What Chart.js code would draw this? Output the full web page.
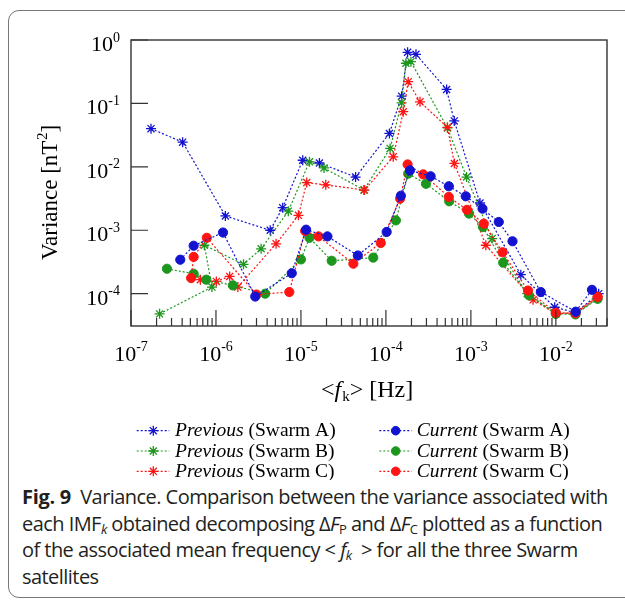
<!DOCTYPE html>
<html>
<head>
<meta charset="utf-8">
<script src="https://cdn.jsdelivr.net/npm/chart.js@4"></script>
<style>
  html, body { margin: 0; padding: 0; background: #fff; }
  #wrap { position: relative; width: 625px; height: 601px; overflow: hidden; }
  #frame { position: absolute; left: 8px; top: 10px; width: 700px; height: 586px;
           border: 1.3px solid #777; border-radius: 11px; }
  #box { position: absolute; left: 0; top: 0; width: 625px; height: 480px; }
  #caption { position: absolute; left: 22px; top: 484px; font-family: "Open Sans", "Noto Sans", sans-serif;
             font-size: 20px; line-height: 26.5px; color: #231f20; letter-spacing: -0.55px; white-space: nowrap; }
  #caption b { font-weight: 700; letter-spacing: -0.3px; }
  #caption sub { font-size: 13px; line-height: 0; vertical-align: -3px; }
</style>
</head>
<body>
<div id="wrap">
  <div id="frame"></div>
  <div id="box"><canvas id="varChart"></canvas></div>
  <div id="caption">
    <div><b>Fig. 9</b>&nbsp; Variance. Comparison between the variance associated with</div>
    <div>each IMF<sub><i>k</i></sub> obtained decomposing Δ<i>F</i><sub>P</sub> and Δ<i>F</i><sub>C</sub> plotted as a function</div>
    <div>of the associated mean frequency &lt; <i>f<sub>k</sub></i> &nbsp;&gt; for all the three Swarm</div>
    <div>satellites</div>
  </div>
</div>
<script>
// mean frequency <f_k> [Hz] and variance [nT^2] of each IMF
let prevA_f = [1.72e-7, 4.05e-7, 1.29e-6, 4.35e-6, 6.1e-6, 1.05e-5, 1.65e-5, 4.4e-5, 1.1e-4, 1.53e-4, 1.8e-4, 2.26e-4, 5.18e-4, 6.37e-4, 1.28e-3, 3.87e-3, 9.7e-3, 1.7e-2, 3.19e-2];
let prevA_v = [0.040, 0.0245, 1.68e-3, 1.0e-3, 2.27e-3, 0.0127, 0.0115, 6.9e-3, 0.0336, 0.130, 0.64, 0.594, 0.166, 0.053, 2.69e-3, 1.99e-4, 6.1e-5, 5.0e-5, 1.0e-4];

let prevB_f = [2.17e-7, 8.97e-7, 7.3e-7, 2.11e-6, 3.4e-6, 7.1e-6, 1.26e-5, 1.87e-5, 5.5e-5, 1.12e-4, 1.53e-4, 1.72e-4, 1.97e-4, 5.3e-4, 8.9e-4, 1.78e-3, 4.6e-3, 1.0e-2, 1.7e-2, 3.1e-2];
let prevB_v = [4.8e-5, 1.27e-4, 5.8e-4, 2.9e-4, 5.1e-4, 2.0e-3, 0.012, 9.6e-3, 4.3e-3, 0.0195, 0.102, 0.43, 0.455, 0.041, 6.9e-3, 7.4e-4, 1.0e-4, 4.9e-5, 4.9e-5, 8.3e-5];

let prevC_f = [6.55e-7, 1.01e-6, 1.45e-6, 1.81e-6, 5.1e-6, 9.35e-6, 1.17e-5, 1.96e-5, 5.6e-5, 1.22e-4, 1.6e-4, 1.83e-4, 2.52e-4, 5.3e-4, 6.4e-4, 1.5e-3, 5.4e-3, 1.0e-2, 1.7e-2, 3.1e-2];
let prevC_v = [1.66e-4, 1.56e-4, 1.87e-4, 1.27e-4, 6.1e-4, 1.72e-3, 5.65e-3, 5.2e-3, 4.3e-3, 0.0144, 0.074, 0.22, 0.106, 0.042, 0.0113, 5.8e-4, 8.0e-5, 4.8e-5, 5.0e-5, 9.0e-5];

let curA_f = [3.8e-7, 5.46e-7, 1.21e-6, 2.9e-6, 7.8e-6, 1.15e-5, 2.05e-5, 4.67e-5, 1.02e-4, 1.5e-4, 1.92e-4, 3.36e-4, 5.5e-4, 8.7e-4, 1.37e-3, 2.13e-3, 3.09e-3, 6.65e-3, 1.71e-2, 2.66e-2];
let curA_v = [3.43e-4, 5.7e-4, 9.2e-4, 9.0e-5, 2.1e-4, 1.02e-3, 8.0e-4, 4.0e-4, 9.4e-4, 3.5e-3, 8.8e-3, 7.1e-3, 4.94e-3, 3.43e-3, 2.19e-3, 1.35e-3, 6.7e-4, 1.06e-4, 5.2e-5, 1.15e-4];

let curB_f = [2.65e-7, 5.46e-7, 7.7e-7, 1.58e-6, 3.8e-6, 1.0e-5, 1.26e-5, 2.3e-5, 7.1e-5, 1.31e-4, 1.83e-4, 2.96e-4, 5.56e-4, 9.5e-4, 1.39e-3, 2.4e-3, 4.84e-3, 1.0e-2, 1.7e-2, 3.1e-2];
let curB_v = [2.47e-4, 2.06e-4, 1.66e-4, 1.35e-4, 1.0e-4, 3.47e-4, 7.6e-4, 3.3e-4, 3.7e-4, 1.43e-3, 7.8e-3, 5.4e-3, 2.86e-3, 1.83e-3, 1.12e-3, 3.08e-4, 9.4e-5, 4.8e-5, 4.7e-5, 8.3e-5];

let curC_f = [5.1e-7, 5.46e-7, 7.8e-7, 3.0e-6, 7.3e-6, 1.12e-5, 1.61e-5, 4.14e-5, 8.7e-5, 1.47e-4, 1.8e-4, 2.75e-4, 5.5e-4, 9.0e-4, 1.42e-3, 2.36e-3, 4.7e-3, 1.0e-2, 1.7e-2, 3.1e-2];
let curC_v = [1.76e-4, 3.8e-4, 7.6e-4, 9.7e-5, 1.06e-4, 9.7e-4, 8.0e-4, 2.97e-4, 6.3e-4, 3.15e-3, 0.0109, 7.6e-3, 3.35e-3, 2.1e-3, 1.27e-3, 4.5e-4, 1.12e-4, 5.0e-5, 4.9e-5, 8.9e-5];

// axis decades for tick labels
let xDecades = [-7, -6, -5, -4, -3, -2];
let yDecades = [0, -1, -2, -3, -4];

const serif = '"Liberation Serif", "Times New Roman", serif';
const blue = "#1212d0", green = "#1c961c", red = "#ff1414";

function series(label, xs, ys, color, style, order) {
    return {
        label: label,
        data: xs.map((x, i) => ({ x: x, y: ys[i] })),
        showLine: true,
        borderColor: color,
        borderWidth: 1.2,
        borderDash: [2, 2],
        pointStyle: style,
        pointRadius: style == "star" ? 5 : 4.6,
        pointBorderWidth: style == "star" ? 1.3 : 1,
        pointBackgroundColor: color,
        pointBorderColor: color,
        order: order
    };
}

// frame, inward ticks, 10^n labels, axis titles and the legend
const decor = {
    id: "decor",
    afterDraw(chart) {
        const ctx = chart.ctx, a = chart.chartArea;
        const xs = chart.scales.x, ys = chart.scales.y;
        ctx.save();
        ctx.strokeStyle = "#333";
        ctx.lineWidth = 1.4;
        ctx.strokeRect(a.left, a.top, a.right - a.left, a.bottom - a.top);

        ctx.lineWidth = 1.2;
        ctx.beginPath();
        yDecades.forEach(e => {
            let py = ys.getPixelForValue(Math.pow(10, e));
            ctx.moveTo(a.left, py); ctx.lineTo(a.left + 17, py);
        });
        for (let e = -7; e <= -2; e++) {
            for (let m = 1; m <= 9; m++) {
                let v = m * Math.pow(10, e);
                if (v > xs.max) break;
                let px = xs.getPixelForValue(v);
                ctx.moveTo(px, a.bottom); ctx.lineTo(px, a.bottom - (m == 1 ? 16 : 8));
            }
        }
        ctx.stroke();

        ctx.fillStyle = "#000";
        ctx.textBaseline = "alphabetic";
        // x tick labels
        xDecades.forEach(e => {
            let px = xs.getPixelForValue(Math.pow(10, e));
            ctx.font = "22px " + serif;
            let wb = ctx.measureText("10").width;
            ctx.font = "14px " + serif;
            let we = ctx.measureText(String(e)).width;
            let x0 = px - (wb + we) / 2;
            ctx.textAlign = "left";
            ctx.font = "22px " + serif;
            ctx.fillText("10", x0, 361);
            ctx.font = "14px " + serif;
            ctx.fillText(String(e), x0 + wb, 351);
        });
        // y tick labels
        yDecades.forEach(e => {
            let py = ys.getPixelForValue(Math.pow(10, e));
            ctx.textAlign = "right";
            ctx.font = "14px " + serif;
            let we = ctx.measureText(String(e)).width;
            ctx.fillText(String(e), 120, py + 1.5);
            ctx.font = "22px " + serif;
            ctx.fillText("10", 120 - we, py + 11);
        });

        // x title  <f_k> [Hz]
        ctx.textAlign = "left";
        let tx = 321, tb = 396.5;
        ctx.font = "24px " + serif;
        ctx.fillText("<", tx, tb); tx += ctx.measureText("<").width;
        ctx.font = "italic 24px " + serif;
        ctx.fillText("f", tx, tb); tx += ctx.measureText("f").width + 1;
        ctx.font = "15px " + serif;
        ctx.fillText("k", tx, tb + 4); tx += ctx.measureText("k").width;
        ctx.font = "24px " + serif;
        ctx.fillText("> [Hz]", tx, tb);

        // y title  Variance [nT^2]
        ctx.save();
        ctx.translate(57, 260);
        ctx.rotate(-Math.PI / 2);
        ctx.font = "23px " + serif;
        ctx.fillText("Variance [nT", 0, 0);
        let w1 = ctx.measureText("Variance [nT").width;
        ctx.font = "15px " + serif;
        ctx.fillText("2", w1 + 0.5, -10);
        ctx.font = "23px " + serif;
        ctx.fillText("]", w1 + 8, 0);
        ctx.restore();

        // legend
        const rows = [430.7, 451, 471.3];
        const cols = [
            { x1: 136.7, x2: 169.3, mx: 153.3, tx: 175, word: "Previous", set: [0, 1, 2] },
            { x1: 379.3, x2: 411.7, mx: 395.7, tx: 416.7, word: "Current", set: [3, 4, 5] }
        ];
        const names = ["(Swarm A)", "(Swarm B)", "(Swarm C)"];
        cols.forEach(c => {
            c.set.forEach((di, r) => {
                let ds = chart.data.datasets[di], y = rows[r];
                ctx.save();
                ctx.strokeStyle = ds.borderColor;
                ctx.lineWidth = 1.2;
                ctx.setLineDash([2, 2]);
                ctx.beginPath(); ctx.moveTo(c.x1, y); ctx.lineTo(c.x2, y); ctx.stroke();
                ctx.setLineDash([]);
                ctx.fillStyle = ds.pointBackgroundColor;
                ctx.strokeStyle = ds.pointBorderColor;
                ctx.lineWidth = ds.pointBorderWidth;
                if (ds.pointStyle == "circle") {
                    ctx.beginPath();
                    ctx.arc(c.mx, y, 4.3, 0, Math.PI * 2); ctx.fill(); ctx.stroke();
                } else {
                    Chart.helpers.drawPoint(ctx, { pointStyle: "star", radius: ds.pointRadius, rotation: 0, borderWidth: ds.pointBorderWidth }, c.mx, y);
                }
                ctx.restore();
                ctx.fillStyle = "#000";
                ctx.textAlign = "left";
                ctx.font = "italic 19.5px " + serif;
                ctx.fillText(c.word, c.tx, y + 5.5);
                let w = ctx.measureText(c.word + " ").width;
                ctx.font = "19.5px " + serif;
                ctx.fillText(names[r], c.tx + w, y + 5.5);
            });
        });
        ctx.restore();
    }
};

let ctxVar = document.getElementById("varChart").getContext("2d");

const varChart = new Chart(ctxVar, {
    type: "scatter",
    data: {
        datasets: [
            series("Previous (Swarm A)", prevA_f, prevA_v, blue, "star", 5),
            series("Previous (Swarm B)", prevB_f, prevB_v, green, "star", 4),
            series("Previous (Swarm C)", prevC_f, prevC_v, red, "star", 3),
            series("Current (Swarm A)", curA_f, curA_v, blue, "circle", 0),
            series("Current (Swarm B)", curB_f, curB_v, green, "circle", 2),
            series("Current (Swarm C)", curC_f, curC_v, red, "circle", 1)
        ]
    },
    options: {
        animation: false,
        responsive: true,
        maintainAspectRatio: false,
        layout: { padding: { top: 40, right: 18, left: 0, bottom: 0 } },
        plugins: { legend: { display: false }, tooltip: { enabled: false } },
        scales: {
            x: {
                type: "logarithmic",
                min: 1e-7,
                max: 0.04,
                ticks: { display: false },
                grid: { display: false },
                border: { display: false },
                afterFit(s) { s.height = 154; }
            },
            y: {
                type: "logarithmic",
                min: Math.pow(10, -4.51),
                max: 1,
                ticks: { display: false },
                grid: { display: false },
                border: { display: false },
                afterFit(s) { s.width = 131; }
            }
        }
    },
    plugins: [decor]
});
</script>
</body>
</html>
